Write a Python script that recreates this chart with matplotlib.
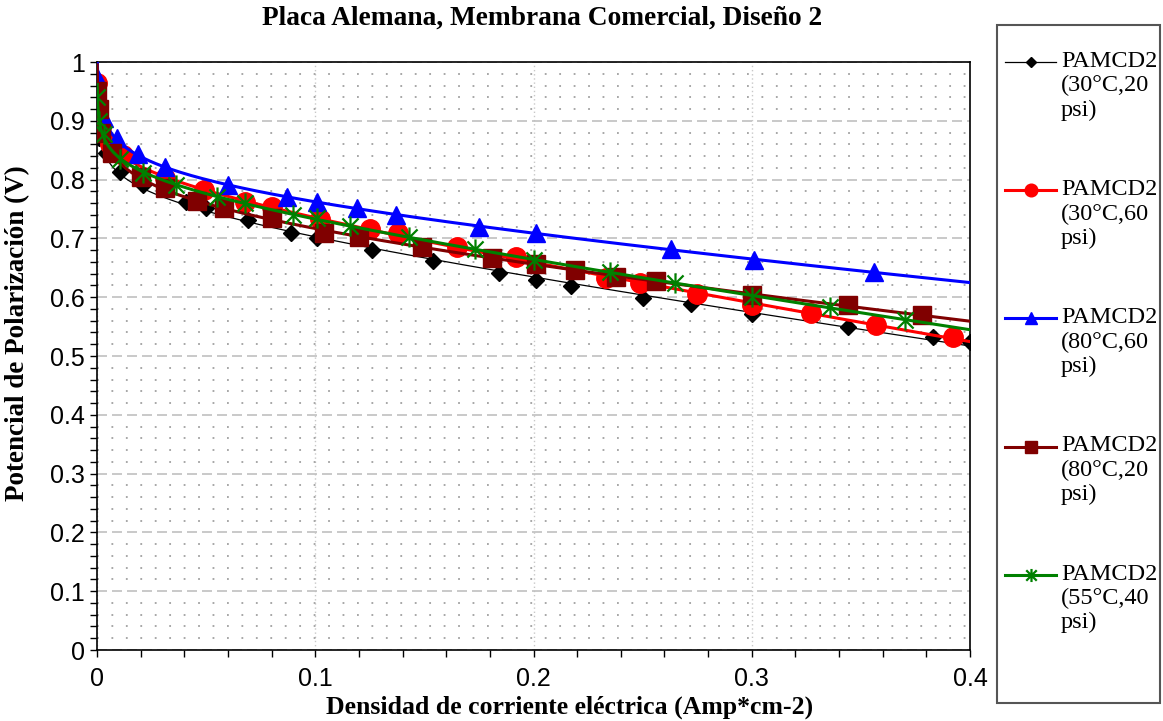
import numpy as np
import matplotlib
matplotlib.use("Agg")
import matplotlib.pyplot as plt
from matplotlib.lines import Line2D
from matplotlib.path import Path
from matplotlib.patches import Rectangle
from matplotlib.legend_handler import HandlerLine2D
from matplotlib.ticker import MultipleLocator

# current density (A/cm2) and cell voltage (V) for each test condition
i_30_20 = [0, 0.001, 0.004, 0.0105, 0.021, 0.041, 0.050, 0.069, 0.089, 0.101, 0.126,
           0.154, 0.184, 0.201, 0.217, 0.250, 0.272, 0.300, 0.344, 0.383, 0.400]
v_30_20 = [0.95, 0.87, 0.845, 0.813, 0.790, 0.762, 0.751, 0.731, 0.710, 0.700, 0.681,
           0.662, 0.641, 0.629, 0.619, 0.599, 0.588, 0.571, 0.550, 0.533, 0.524]

i_30_60 = [0, 0.002, 0.006, 0.012, 0.031, 0.049, 0.068, 0.080, 0.102, 0.125, 0.138,
           0.165, 0.192, 0.233, 0.249, 0.275, 0.300, 0.327, 0.357, 0.392]
v_30_60 = [0.965, 0.89, 0.86, 0.842, 0.803, 0.782, 0.762, 0.753, 0.733, 0.716, 0.709,
           0.685, 0.668, 0.633, 0.625, 0.605, 0.587, 0.573, 0.553, 0.532]

i_80_60 = [0, 0.003, 0.009, 0.019, 0.031, 0.060, 0.087, 0.101, 0.119, 0.137, 0.175,
           0.201, 0.263, 0.301, 0.356]
v_80_60 = [0.975, 0.904, 0.870, 0.843, 0.821, 0.790, 0.770, 0.762, 0.751, 0.740, 0.720,
           0.709, 0.682, 0.663, 0.643]

i_80_20 = [0, 0.001, 0.002, 0.007, 0.020, 0.031, 0.046, 0.058, 0.080, 0.104, 0.120,
           0.149, 0.181, 0.201, 0.219, 0.238, 0.256, 0.300, 0.344, 0.378]
v_80_20 = [0.95, 0.92, 0.88, 0.845, 0.804, 0.786, 0.763, 0.752, 0.734, 0.709, 0.703,
           0.686, 0.667, 0.656, 0.646, 0.634, 0.627, 0.604, 0.587, 0.570]

i_55_40 = [0, 0.001, 0.003, 0.0105, 0.021, 0.036, 0.055, 0.068, 0.090, 0.101, 0.116,
           0.143, 0.173, 0.200, 0.235, 0.265, 0.300, 0.336, 0.370]
v_55_40 = [0.94, 0.90, 0.877, 0.835, 0.811, 0.791, 0.770, 0.760, 0.740, 0.734, 0.721,
           0.703, 0.682, 0.664, 0.643, 0.624, 0.600, 0.584, 0.561]

labels = ["PAMCD2\n(30°C,20\npsi)", "PAMCD2\n(30°C,60\npsi)", "PAMCD2\n(80°C,60\npsi)",
          "PAMCD2\n(80°C,20\npsi)", "PAMCD2\n(55°C,40\npsi)"]

# asterisk marker: an X crossed by a vertical bar
star = Path([(-1, -1), (1, 1), (-1, 1), (1, -1), (0, -1.25), (0, 1.25)],
            [Path.MOVETO, Path.LINETO] * 3)

series = [
    (i_30_20, v_30_20, "black", "D", 8.5, 0.9),
    (i_30_60, v_30_60, "#FF0000", "o", 14, 2.2),
    (i_80_60, v_80_60, "#0000FF", "^", 13.5, 2.2),
    (i_80_20, v_80_20, "#800000", "s", 13, 2.2),
    (i_55_40, v_55_40, "#008000", star, 14.5, 2.2),
]

plt.rcParams["font.family"] = ["Liberation Sans", "DejaVu Sans"]
serif = ["Liberation Serif", "DejaVu Serif"]

fig = plt.figure(figsize=(11.63, 7.21), dpi=100)
ax = fig.add_axes([97 / 1163, 1 - 650 / 721, 873 / 1163, 588 / 721])

xx = np.geomspace(1e-4, 0.4, 500)
handles = []
for k, (x, y, c, m, ms, lw) in enumerate(series):
    x = np.asarray(x)
    y = np.asarray(y)
    # log + ohmic trend: V = a + b ln(i) + r i
    pos = x > 0
    A = np.column_stack([np.ones(pos.sum()), np.log(x[pos]), x[pos]])
    coef = np.linalg.lstsq(A, y[pos], rcond=None)[0]
    yy = coef[0] + coef[1] * np.log(xx) + coef[2] * xx
    z = 3 + k
    hollow = m is star
    ax.plot(x, y, linestyle="none", marker=m, ms=ms, color=c, mec=c,
            mfc="none" if hollow else c, mew=1.6 if hollow else 1, zorder=z)
    ax.plot(xx, yy, color=c, lw=lw, zorder=z)
    handles.append(Line2D([], [], color=c, lw=lw, marker=m, ms=ms, mec=c,
                          mfc="none" if hollow else c, mew=1.6 if hollow else 1))

ax.set_xlim(0, 0.4)
ax.set_ylim(0, 1)
ax.xaxis.set_major_locator(MultipleLocator(0.1))
ax.xaxis.set_minor_locator(MultipleLocator(0.02))
ax.yaxis.set_major_locator(MultipleLocator(0.1))
ax.yaxis.set_minor_locator(MultipleLocator(0.02))
ax.xaxis.set_major_formatter(plt.FuncFormatter(lambda v, p: f"{v:g}"))
ax.yaxis.set_major_formatter(plt.FuncFormatter(lambda v, p: f"{v:g}"))
ax.tick_params(which="both", direction="out", length=5, width=1, colors="black")
ax.tick_params(which="major", labelsize=18)
ax.tick_params(axis="x", which="major", pad=7)
for s in ax.spines.values():
    s.set_linewidth(1.2)
    s.set_color("black")

ax.grid(True, which="minor", axis="y", color="#A0A0A0", lw=1.3, linestyle=(0, (1, 7)))
ax.grid(True, which="major", axis="y", color="#C0C0C0", lw=1.2, linestyle=(0, (6, 3)))
ax.grid(True, which="major", axis="x", color="#C8C8C8", lw=1.0, linestyle=(0, (1, 2)))
ax.set_axisbelow(True)

fig.text(542 / 1163, 1 - 18 / 721, "Placa Alemana, Membrana Comercial, Diseño 2",
         ha="center", va="center", fontsize=19.7, fontweight="bold", family=serif)
fig.text(570 / 1163, 1 - 707 / 721, "Densidad de corriente eléctrica (Amp*cm-2)",
         ha="center", va="center", fontsize=18.5, fontweight="bold", family=serif)
fig.text(18 / 1163, 1 - 333 / 721, "Potencial de Polarización (V)", rotation=90,
         ha="center", va="center", fontsize=19.5, fontweight="bold", family=serif)


class TopLineHandler(HandlerLine2D):
    # put the legend sample beside the first line of a multi-line label
    def create_artists(self, legend, orig_handle, xdescent, ydescent, width, height, fontsize, trans):
        arts = super().create_artists(legend, orig_handle, xdescent, ydescent, width, height,
                                      fontsize, trans)
        for a in arts:
            a.set_ydata(np.full_like(np.asarray(a.get_xdata(), float),
                                     height - ydescent - 0.08 * fontsize))
        return arts


fig.add_artist(Rectangle((997 / 1163, 1 - 703 / 721), 163 / 1163, 678 / 721,
                         transform=fig.transFigure, fill=False, ec="#555555", lw=1.5))
fig.legend(handles, labels, loc="upper left", bbox_to_anchor=(1005 / 1163, 1 - 51 / 721),
           frameon=False, prop={"family": serif, "size": 17.5}, handlelength=2.1,
           handletextpad=0.2, labelspacing=2.4, handleheight=3.0, markerscale=0.65,
           borderaxespad=0, borderpad=0,
           handler_map={Line2D: TopLineHandler()})

fig.savefig("out.png", dpi=100)
